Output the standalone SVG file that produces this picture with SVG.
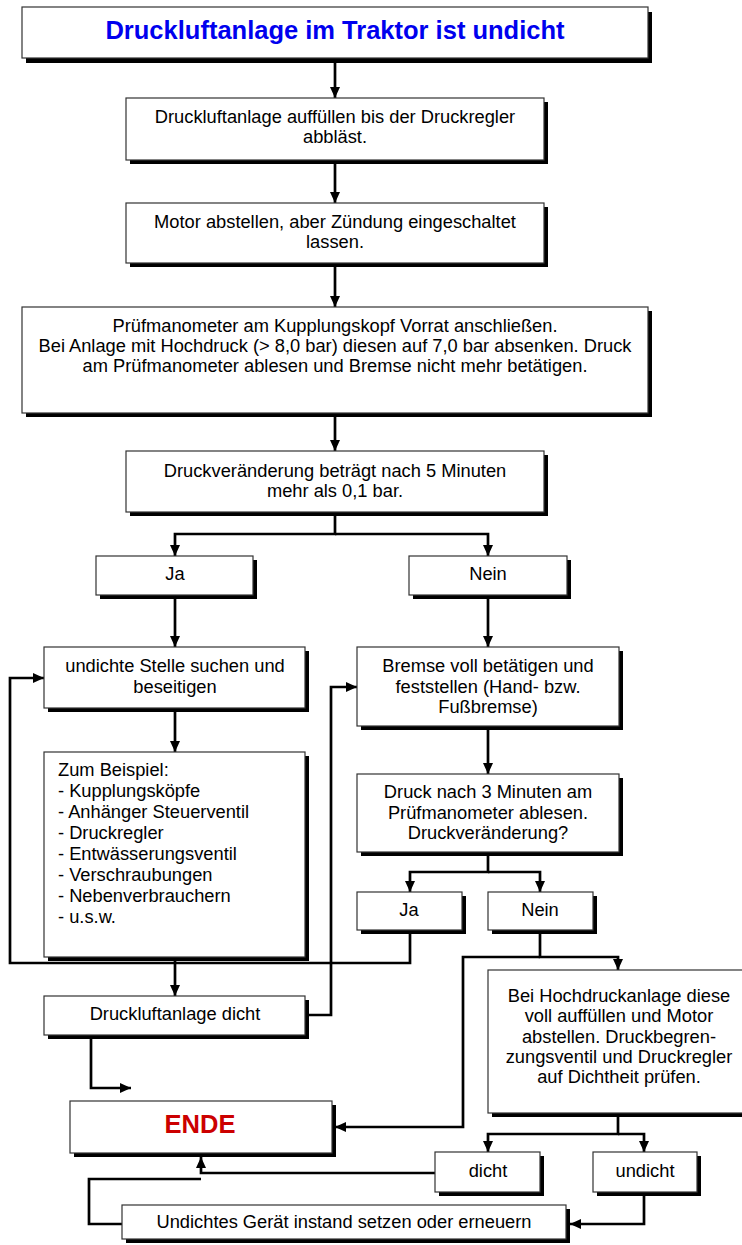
<svg xmlns="http://www.w3.org/2000/svg" width="742" height="1245" viewBox="0 0 742 1245">
<style>
.sh{fill:#000}
.bx{fill:#fff;stroke:#333;stroke-width:1.2}
.t{font-family:"Liberation Sans",Arial,sans-serif;font-size:18.3px;text-anchor:middle;fill:#000}
.l{text-anchor:start}
.c{fill:none;stroke:#000;stroke-width:2.7;stroke-linejoin:miter}
.a{marker-end:url(#ah)}
</style>
<defs>
<marker id="ah" markerUnits="userSpaceOnUse" markerWidth="11" markerHeight="10" refX="11" refY="5" orient="auto">
<path d="M0,0 L11,5 L0,10 z" fill="#000"/>
</marker>
</defs>
<rect width="742" height="1245" fill="#fff"/>

<g id="connectors">
<path class="c a" d="M335,63 V98"/>
<path class="c a" d="M335,164 V203"/>
<path class="c a" d="M335,267 V307"/>
<path class="c a" d="M335,417 V451"/>
<path class="c a" d="M335,516 V534 H175 V556"/>
<path class="c a" d="M335,534 H488 V556"/>
<path class="c a" d="M175,599 V647"/>
<path class="c a" d="M488,599 V647"/>
<path class="c a" d="M175,712 V752"/>
<path class="c a" d="M488,730 V774"/>
<path class="c a" d="M488,856 V872 H410 V892"/>
<path class="c a" d="M488,872 H540 V892"/>
<path class="c a" d="M410,934 V963 H10 V678 H44"/>
<path class="c a" d="M175,961 V996"/>
<path class="c a" d="M309,1015 H331 V687 H357"/>
<path class="c a" d="M540,934 V957 H618 V970"/>
<path class="c a" d="M540,957 H463 V1127 H335"/>
<path class="c a" d="M91,1039 V1088 H131"/>
<path class="c a" d="M618,1117 V1134 H488 V1152"/>
<path class="c a" d="M618,1134 H644 V1152"/>
<path class="c a" d="M435,1173 H201 V1157"/>
<path class="c a" d="M644,1196 V1224 H570"/>
<path class="c" d="M122,1224 H89 V1179 H201"/>
</g>

<g id="title">
<rect class="sh" x="26" y="12" width="626" height="51"/>
<rect class="bx" x="22" y="7" width="626" height="51"/>
<text class="t" x="335" y="39" style="font-size:25.5px;font-weight:bold;fill:#0000ee">Druckluftanlage im Traktor ist undicht</text>
</g>

<g id="fill">
<rect class="sh" x="130" y="102" width="418" height="62"/>
<rect class="bx" x="126" y="98" width="418" height="62"/>
<text class="t" x="335" y="123">Druckluftanlage auffüllen bis der Druckregler</text>
<text class="t" x="335" y="143">abbläst.</text>
</g>

<g id="motor">
<rect class="sh" x="130" y="207" width="418" height="60"/>
<rect class="bx" x="126" y="203" width="418" height="60"/>
<text class="t" x="335" y="228">Motor abstellen, aber Zündung eingeschaltet</text>
<text class="t" x="335" y="248">lassen.</text>
</g>

<g id="manometer">
<rect class="sh" x="26" y="311" width="626" height="106"/>
<rect class="bx" x="22" y="307" width="626" height="106"/>
<text class="t" x="335" y="332">Prüfmanometer am Kupplungskopf Vorrat anschließen.</text>
<text class="t" x="335" y="352">Bei Anlage mit Hochdruck (&gt; 8,0 bar) diesen auf 7,0 bar absenken. Druck</text>
<text class="t" x="335" y="372">am Prüfmanometer ablesen und Bremse nicht mehr betätigen.</text>
</g>

<g id="change5">
<rect class="sh" x="130" y="455" width="418" height="61"/>
<rect class="bx" x="126" y="451" width="418" height="61"/>
<text class="t" x="335" y="477">Druckveränderung beträgt nach 5 Minuten</text>
<text class="t" x="335" y="497">mehr als 0,1 bar.</text>
</g>

<g id="ja1">
<rect class="sh" x="100" y="560" width="157" height="39"/>
<rect class="bx" x="96" y="556" width="157" height="39"/>
<text class="t" x="175" y="580">Ja</text>
</g>

<g id="nein1">
<rect class="sh" x="413" y="560" width="158" height="39"/>
<rect class="bx" x="409" y="556" width="158" height="39"/>
<text class="t" x="488" y="580">Nein</text>
</g>

<g id="suchen">
<rect class="sh" x="48" y="651" width="261" height="61"/>
<rect class="bx" x="44" y="647" width="261" height="61"/>
<text class="t" x="175" y="672">undichte Stelle suchen und</text>
<text class="t" x="175" y="693">beseitigen</text>
</g>

<g id="bremse">
<rect class="sh" x="361" y="651" width="262" height="79"/>
<rect class="bx" x="357" y="647" width="262" height="79"/>
<text class="t" x="488" y="672">Bremse voll betätigen und</text>
<text class="t" x="488" y="693">feststellen (Hand- bzw.</text>
<text class="t" x="488" y="713">Fußbremse)</text>
</g>

<g id="beispiel">
<rect class="sh" x="48" y="756" width="261" height="205"/>
<rect class="bx" x="44" y="752" width="261" height="205"/>
<text class="t l" x="58" y="776">Zum Beispiel:</text>
<text class="t l" x="58" y="797">- Kupplungsköpfe</text>
<text class="t l" x="58" y="818">- Anhänger Steuerventil</text>
<text class="t l" x="58" y="839">- Druckregler</text>
<text class="t l" x="58" y="860">- Entwässerungsventil</text>
<text class="t l" x="58" y="881">- Verschraubungen</text>
<text class="t l" x="58" y="902">- Nebenverbrauchern</text>
<text class="t l" x="58" y="923">- u.s.w.</text>
</g>

<g id="druck3">
<rect class="sh" x="361" y="778" width="262" height="78"/>
<rect class="bx" x="357" y="774" width="262" height="78"/>
<text class="t" x="488" y="798">Druck nach 3 Minuten am</text>
<text class="t" x="488" y="819">Prüfmanometer ablesen.</text>
<text class="t" x="488" y="839">Druckveränderung?</text>
</g>

<g id="ja2">
<rect class="sh" x="361" y="896" width="105" height="38"/>
<rect class="bx" x="357" y="892" width="105" height="38"/>
<text class="t" x="409" y="916">Ja</text>
</g>

<g id="nein2">
<rect class="sh" x="492" y="896" width="105" height="38"/>
<rect class="bx" x="488" y="892" width="105" height="38"/>
<text class="t" x="540" y="916">Nein</text>
</g>

<g id="dicht-anlage">
<rect class="sh" x="48" y="1000" width="261" height="39"/>
<rect class="bx" x="44" y="996" width="261" height="39"/>
<text class="t" x="175" y="1020">Druckluftanlage dicht</text>
</g>

<g id="hochdruck">
<rect class="sh" x="492" y="974" width="262" height="143"/>
<rect class="bx" x="488" y="970" width="262" height="143"/>
<text class="t" x="619" y="1002">Bei Hochdruckanlage diese</text>
<text class="t" x="619" y="1022">voll auffüllen und Motor</text>
<text class="t" x="619" y="1043">abstellen. Druckbegren-</text>
<text class="t" x="619" y="1063">zungsventil und Druckregler</text>
<text class="t" x="619" y="1083">auf Dichtheit prüfen.</text>
</g>

<g id="ende">
<rect class="sh" x="74" y="1105" width="262" height="52"/>
<rect class="bx" x="70" y="1101" width="262" height="52"/>
<text class="t" x="200" y="1133" style="font-size:25.5px;font-weight:bold;fill:#cc0000">ENDE</text>
</g>

<g id="dicht">
<rect class="sh" x="439" y="1156" width="105" height="40"/>
<rect class="bx" x="435" y="1152" width="105" height="40"/>
<text class="t" x="488" y="1177">dicht</text>
</g>

<g id="undicht">
<rect class="sh" x="597" y="1156" width="104" height="40"/>
<rect class="bx" x="593" y="1152" width="104" height="40"/>
<text class="t" x="645" y="1177">undicht</text>
</g>

<g id="instand">
<rect class="sh" x="126" y="1209" width="444" height="34"/>
<rect class="bx" x="122" y="1205" width="444" height="34"/>
<text class="t" x="344" y="1228">Undichtes Gerät instand setzen oder erneuern</text>
</g>
</svg>
